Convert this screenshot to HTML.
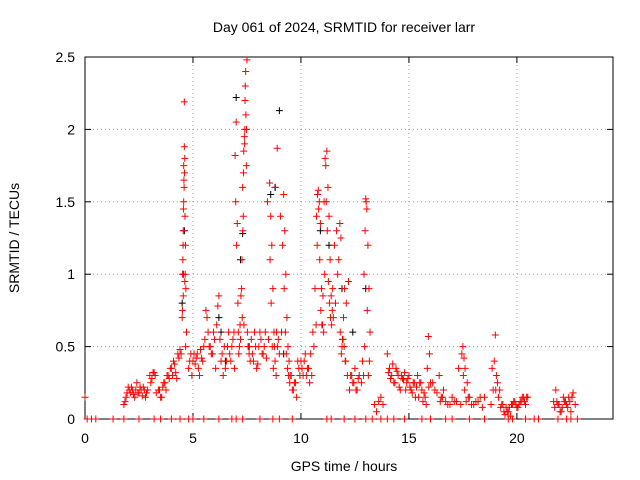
<!DOCTYPE html>
<html><head><meta charset="utf-8"><style>
html,body{margin:0;padding:0;background:#fff;}
svg{display:block;font-family:"Liberation Sans",sans-serif;}
</style></head><body>
<svg id="chart" width="640" height="480">
<text x="344" y="32" font-size="14" text-anchor="middle">Day 061 of 2024, SRMTID for receiver larr</text>
<text x="344" y="471" font-size="14" text-anchor="middle">GPS time / hours</text>
<text x="19" y="238" font-size="14" text-anchor="middle" transform="rotate(-90 19 238)">SRMTID / TECUs</text>
<g id="grid"></g><g id="axes"></g><g id="marks"></g>
</svg>
<script>
const xTicks=[0,5,10,15,20];
const yTicks=[0,0.5,1,1.5,2,2.5];
const yTickLabels=["0","0.5","1","1.5","2","2.5"];
const blackT=[4.5,4.6,4.55,6.2,6.3,7.0,7.3,7.2,8.6,8.8,9.0,10.9,11.3,11.9,12.4,13.0,6.5,7.6,9.2];
const blackV=[0.8,1.3,1.0,0.7,0.6,2.22,1.28,1.1,1.55,1.6,2.13,1.3,1.2,0.9,0.6,0.9,0.4,0.5,0.45];
const zeroT=[0.1,0.3,0.5,1.3,1.8,2.5,3.2,3.5,4.0,4.4,4.8,5.0,5.5,6.2,6.8,7.0,7.3,8.1,8.7,9.0,9.6,11.2,11.4,12.0,12.5,13.0,13.3,13.7,14.0,14.3,14.8,15.6,16.0,16.7,17.0,17.8,18.5,19.6,19.8,20.4,20.8,21.0,21.9,22.3,22.5,22.8];
const redT=[0.0,
1.8,1.9,2.0,2.1,2.2,2.3,2.4,2.5,2.6,2.7,2.8,2.9,3.0,3.1,3.2,3.3,3.4,3.5,3.6,3.7,3.8,3.9,4.0,4.1,4.2,4.3,4.4,
4.5,4.52,4.55,4.57,4.6,4.62,4.65,4.67,4.7,4.6,4.58,4.63,4.55,
4.8,4.9,5.0,5.1,5.2,5.3,5.4,5.5,5.6,5.7,5.8,5.9,6.0,6.1,6.2,6.3,6.4,6.5,6.6,
6.7,6.8,6.9,6.95,7.0,7.05,7.1,7.15,7.2,7.25,7.3,7.35,7.4,7.45,7.5,7.42,7.38,7.47,7.33,7.28,7.36,
7.6,7.7,7.8,7.9,8.0,8.1,8.2,8.3,8.4,8.5,
8.55,8.6,8.65,8.7,8.75,8.8,8.85,8.9,8.95,9.0,9.1,9.2,9.25,9.3,9.35,9.4,9.45,
9.5,9.6,9.7,9.8,9.9,10.0,10.1,10.2,10.3,10.4,10.5,10.6,
10.7,10.75,10.8,10.85,10.9,10.95,11.0,11.05,11.1,11.15,11.2,11.25,11.3,11.35,11.4,11.45,11.5,
11.6,11.7,11.8,11.85,11.9,11.95,12.0,12.05,12.1,12.2,12.3,12.4,12.5,12.6,12.7,
12.8,12.9,12.95,13.0,13.05,13.1,13.15,13.2,13.4,13.5,13.6,13.7,13.8,
14.0,14.1,14.2,14.3,14.4,14.5,14.6,14.7,14.8,14.9,15.0,15.1,15.2,15.3,15.4,15.5,15.6,15.7,15.8,15.9,15.95,
16.0,16.2,16.4,16.5,16.6,16.8,17.0,17.2,17.4,17.5,17.55,17.6,17.7,17.8,18.0,18.2,18.4,18.5,
18.8,18.9,19.0,19.05,19.1,19.2,19.3,19.4,19.5,19.6,19.7,19.8,19.9,20.0,20.1,20.2,20.3,20.4,20.5,
21.7,21.8,21.9,22.0,22.1,22.2,22.3,22.4,22.5,22.6,22.7,
1.85,1.95,2.05,2.15,2.25,2.35,2.45,2.55,2.65,2.75,2.85,3.05,3.15,3.25,3.45,3.55,3.65,3.75,3.85,3.95,4.05,4.15,4.25,4.35,4.45,
4.51,4.53,4.56,4.59,4.61,4.64,4.66,4.54,4.62,4.57,
4.85,4.95,5.05,5.15,5.25,5.35,5.45,5.55,5.65,5.75,5.85,5.95,6.05,6.15,6.25,6.35,6.45,6.55,6.65,
6.75,6.85,6.92,6.98,7.02,7.08,7.12,7.18,7.22,7.27,7.31,7.34,7.39,7.41,7.44,7.48,7.52,7.55,
7.65,7.75,7.85,7.95,8.05,8.15,8.25,8.35,8.45,
8.57,8.62,8.67,8.72,8.77,8.82,8.87,8.92,9.05,9.15,9.22,9.28,9.32,9.38,9.42,9.48,
9.55,9.65,9.75,9.85,9.95,10.05,10.15,10.25,10.35,10.45,10.55,10.65,
10.72,10.77,10.82,10.87,10.92,10.97,11.02,11.07,11.12,11.17,11.22,11.27,11.32,11.37,11.42,11.47,
11.55,11.65,11.75,11.82,11.87,11.92,11.97,12.02,12.07,12.15,12.25,12.35,12.45,12.55,12.65,
12.85,12.92,12.97,13.02,13.07,13.12,13.17,
14.05,14.15,14.25,14.35,14.45,14.55,14.65,14.75,14.85,14.95,15.05,15.15,15.25,15.35,15.45,15.55,15.65,15.75,15.85,15.92,
16.1,16.3,16.45,16.55,16.7,16.9,17.1,17.3,17.45,17.52,17.58,17.65,17.75,17.9,18.1,18.3,
18.85,18.95,19.02,19.15,19.25,19.35,19.45,19.55,19.65,19.75,19.85,19.95,20.05,20.15,20.25,20.35,20.45,
21.75,21.85,21.95,22.05,22.15,22.25,22.35,22.45,22.55,22.65];
const redV=[0.15,
0.1,0.15,0.22,0.18,0.2,0.15,0.25,0.18,0.2,0.22,0.15,0.2,0.3,0.28,0.32,0.18,0.2,0.15,0.22,0.25,0.3,0.28,0.35,0.4,0.32,0.45,0.48,
0.7,1.0,1.3,1.5,1.88,1.8,1.2,0.9,0.6,2.19,1.65,1.4,0.85,
0.35,0.45,0.4,0.38,0.45,0.3,0.42,0.5,0.75,0.6,0.5,0.45,0.55,0.65,0.85,0.4,0.3,0.35,0.5,
0.45,0.5,0.6,1.82,2.05,1.35,0.6,0.5,0.55,0.9,1.6,1.85,2.0,2.1,2.48,2.3,1.95,1.75,1.4,0.7,0.65,
0.45,0.55,0.4,0.5,0.38,0.6,0.45,0.5,0.42,0.55,
1.63,1.4,1.2,0.9,0.6,0.4,0.3,1.87,0.55,0.45,0.6,1.55,1.3,1.0,0.7,0.5,0.4,
0.3,0.2,0.25,0.15,0.35,0.4,0.3,0.45,0.35,0.25,0.3,0.5,
0.65,1.2,1.58,1.5,1.35,0.9,0.65,0.6,1.0,1.75,1.85,1.6,1.4,1.1,0.85,0.75,0.7,
0.8,1.0,1.35,1.25,0.5,0.55,0.5,0.4,0.8,0.95,0.3,0.25,0.35,0.2,0.3,
0.25,0.3,0.5,1.52,1.45,1.2,0.9,0.6,0.1,0.05,0.12,0.15,0.1,
0.45,0.35,0.3,0.25,0.35,0.3,0.2,0.28,0.32,0.25,0.3,0.2,0.25,0.15,0.3,0.25,0.2,0.18,0.1,0.57,0.45,
0.25,0.2,0.3,0.15,0.2,0.1,0.15,0.12,0.1,0.5,0.42,0.35,0.25,0.15,0.1,0.12,0.08,0.15,
0.1,0.2,0.58,0.3,0.25,0.2,0.1,0.05,0.08,0.05,0.02,0.1,0.12,0.08,0.1,0.12,0.15,0.1,0.15,
0.12,0.2,0.1,0.05,0.08,0.12,0.1,0.15,0.05,0.18,0.1,
0.12,0.18,0.2,0.22,0.17,0.2,0.18,0.22,0.16,0.2,0.18,0.25,0.32,0.3,0.2,0.15,0.25,0.2,0.3,0.35,0.3,0.38,0.28,0.42,0.45,
0.75,1.1,1.45,1.6,1.7,1.0,0.5,1.2,0.95,1.75,
0.4,0.3,0.45,0.42,0.35,0.48,0.4,0.55,0.7,0.5,0.45,0.6,0.35,0.78,0.55,0.45,0.5,0.4,0.6,
0.4,0.55,0.35,1.5,1.2,0.8,0.45,0.65,0.85,1.1,1.3,1.7,1.9,2.2,2.4,2.0,0.6,
0.5,0.4,0.45,0.6,0.35,0.5,0.55,0.45,0.6,
1.5,1.1,0.8,0.5,0.35,0.5,1.6,0.6,0.5,1.4,1.2,0.9,0.6,0.45,0.35,0.3,
0.25,0.3,0.2,0.25,0.4,0.3,0.35,0.4,0.3,0.35,0.45,0.6,
0.9,1.4,1.55,1.45,1.1,0.75,0.65,0.85,1.5,1.8,1.5,1.3,0.95,0.8,0.7,0.65,
0.9,1.2,1.3,1.1,0.6,0.45,0.55,0.7,0.9,0.4,0.3,0.2,0.3,0.25,0.2,
0.28,0.4,1.0,1.3,1.5,0.75,0.3,
0.4,0.32,0.28,0.38,0.25,0.33,0.22,0.3,0.27,0.2,0.28,0.22,0.18,0.25,0.22,0.15,0.25,0.12,0.15,0.35,
0.22,0.25,0.18,0.12,0.15,0.12,0.1,0.12,0.35,0.45,0.3,0.2,0.12,0.15,0.1,0.12,
0.15,0.35,0.4,0.2,0.15,0.08,0.1,0.03,0.05,0.08,0.1,0.12,0.1,0.08,0.12,0.15,0.12,
0.15,0.08,0.12,0.1,0.05,0.15,0.12,0.08,0.12,0.15];
const X0=85,X1=613,Y0=419,Y1=57,XMAX=24.45,YMAX=2.5;
const sx=t=>X0+t/XMAX*(X1-X0), sy=v=>Y0-v/YMAX*(Y0-Y1);
const NS="http://www.w3.org/2000/svg";
function mk(tag,attrs,parent){const e=document.createElementNS(NS,tag);for(const k in attrs)e.setAttribute(k,attrs[k]);parent.appendChild(e);return e;}
const grid=document.getElementById('grid'),axes=document.getElementById('axes'),marks=document.getElementById('marks');
xTicks.forEach(t=>{const x=sx(t);
 const g=mk('line',{x1:x,x2:x,y1:Y1,y2:Y0,stroke:'#a0a0a0','stroke-dasharray':'1,3','stroke-width':1},grid);
 
 
 mk('line',{x1:x,x2:x,y1:Y0,y2:Y0-6,stroke:'#000'},axes);
 mk('line',{x1:x,x2:x,y1:Y1,y2:Y1+6,stroke:'#000'},axes);
 const l=mk('text',{x:x,y:Y0+24,'font-size':14,'text-anchor':'middle'},axes);l.textContent=t;
 
 });
yTicks.forEach((v,i)=>{const y=sy(v);
 const g=mk('line',{x1:X0,x2:X1,y1:y,y2:y,stroke:'#a0a0a0','stroke-dasharray':'1,3','stroke-width':1},grid);
 
 
 mk('line',{x1:X0,x2:X0+6,y1:y,y2:y,stroke:'#000'},axes);
 mk('line',{x1:X1,x2:X1-6,y1:y,y2:y,stroke:'#000'},axes);
 const l=mk('text',{x:X0-10,y:y+5,'font-size':14,'text-anchor':'end'},axes);l.textContent=yTickLabels[i];
 
 });
const fr=mk('rect',{x:X0,y:Y1,width:X1-X0,height:Y0-Y1,fill:'none',stroke:'#000'},axes);


function plus(t,v,c,name){const x=sx(t),y=sy(v);
 const p=mk('path',{d:`M${x-3.5},${y}h7M${x},${y-3.5}v7`,stroke:c,'stroke-width':1,fill:'none'},marks);
 
 }
blackT.forEach((t,i)=>plus(t,blackV[i],'#000','black-point'));
redT.forEach((t,i)=>plus(t,redV[i],'#f00','red-point'));
zeroT.forEach(t=>plus(t,0,'#f00','zero-point'));
</script>
</body></html>
